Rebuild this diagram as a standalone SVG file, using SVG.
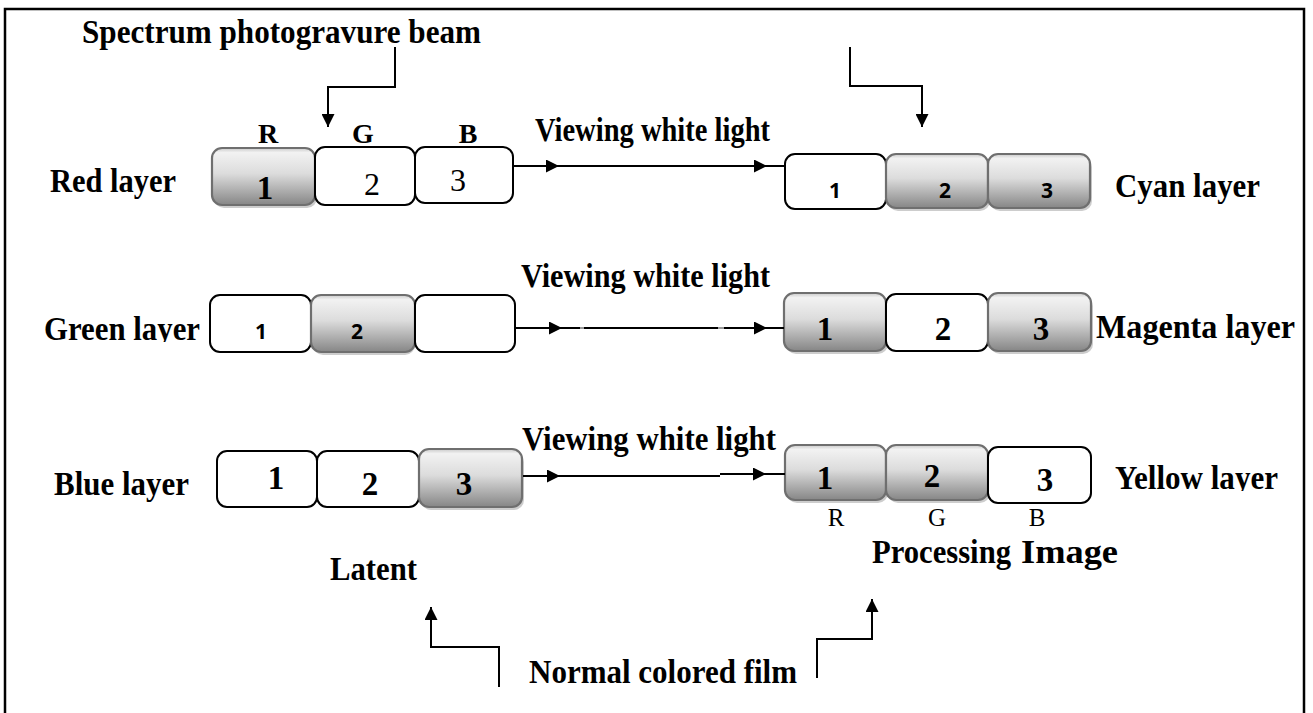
<svg xmlns="http://www.w3.org/2000/svg" width="1313" height="713" viewBox="0 0 1313 713">
  <defs>
    <linearGradient id="grayFill" x1="0" y1="0" x2="0" y2="1">
      <stop offset="0" stop-color="#c9c9c9"/>
      <stop offset="0.08" stop-color="#f2f2f2"/>
      <stop offset="0.45" stop-color="#dcdcdc"/>
      <stop offset="1" stop-color="#868686"/>
    </linearGradient>
    <marker id="arrowhead" viewBox="0 0 10 10" refX="10" refY="5" markerUnits="userSpaceOnUse" markerWidth="15" markerHeight="13" orient="auto">
      <path d="M0,0 L10,5 L0,10 z" fill="#000"/>
    </marker>
    <!-- descenders of these two labels are cut off at the baseline -->
    <clipPath id="clipGreen"><rect x="30" y="290" width="180" height="52"/></clipPath>
    <clipPath id="clipYellow"><rect x="1100" y="440" width="200" height="51"/></clipPath>
    <style>
      .lbl { font-family: "Liberation Serif", "Times New Roman", serif; font-weight: bold; font-size: 34px; fill: #000; }
      .num { font-family: "Liberation Serif", "Times New Roman", serif; font-size: 32px; fill: #000; text-anchor: middle; }
      .numb { font-family: "Liberation Serif", "Times New Roman", serif; font-weight: bold; font-size: 33px; fill: #000; text-anchor: middle; }
      .sans { font-family: "Open Sans", "Noto Sans", sans-serif; font-weight: 700; font-size: 21px; fill: #000; text-anchor: middle; }
      .rgb { font-family: "Liberation Serif", "Times New Roman", serif; font-size: 25px; fill: #000; text-anchor: middle; }
      .rgbb { font-family: "Liberation Serif", "Times New Roman", serif; font-weight: bold; font-size: 28px; fill: #000; text-anchor: middle; }
      .white { fill: #fff; stroke: #000; stroke-width: 2; }
      .gray { fill: url(#grayFill); stroke: #6f6f6f; stroke-width: 2.2; }
      .shadow { fill: #b8b8b8; opacity: 0.7; }
      .wire { fill: none; stroke: #000; stroke-width: 2; }
      .seam { fill: none; stroke: #9a9a9a; stroke-width: 2; }
      .arrow { fill: none; stroke: #000; stroke-width: 2; marker-end: url(#arrowhead); }
      .frame { fill: none; stroke: #000; stroke-width: 2.5; }
    </style>
  </defs>

  <rect width="1313" height="713" fill="#fff"/>

  <!-- outer frame, open at the bottom -->
  <path class="frame" d="M5,713 V9 H1304 V713"/>

  <!-- latent image: red layer -->
  <g id="red-layer">
    <text class="lbl" x="50" y="192" textLength="126" lengthAdjust="spacingAndGlyphs">Red layer</text>
    <text class="rgbb" x="268" y="143">R</text>
    <text class="rgbb" x="363" y="143">G</text>
    <text class="rgbb" x="468" y="143">B</text>
    <rect class="shadow" x="214" y="151" width="103" height="57" rx="10"/>
    <rect class="gray" x="212" y="148" width="103" height="57" rx="10"/>
    <rect class="white" x="315" y="147" width="100" height="58" rx="10"/>
    <rect class="white" x="415" y="147" width="98" height="56" rx="10"/>
    <text class="numb" x="265" y="199">1</text>
    <text class="num" x="372" y="195">2</text>
    <text class="num" x="458" y="191">3</text>
  </g>

  <!-- latent image: green layer -->
  <g id="green-layer">
    <text class="lbl" x="44" y="340" textLength="156" lengthAdjust="spacingAndGlyphs" clip-path="url(#clipGreen)">Green layer</text>
    <rect class="white" x="210" y="295" width="101" height="57" rx="10"/>
    <rect class="shadow" x="313" y="298" width="102" height="57" rx="10"/>
    <rect class="gray" x="311" y="295" width="104" height="57" rx="10"/>
    <rect class="white" x="415" y="295" width="100" height="57" rx="10"/>
    <text class="sans" x="261" y="339">1</text>
    <text class="sans" x="357" y="339">2</text>
  </g>

  <!-- latent image: blue layer -->
  <g id="blue-layer">
    <text class="lbl" x="54" y="495" textLength="135" lengthAdjust="spacingAndGlyphs">Blue layer</text>
    <rect class="white" x="217" y="451" width="100" height="56" rx="10"/>
    <rect class="white" x="317" y="451" width="102" height="56" rx="10"/>
    <rect class="shadow" x="421" y="452" width="103" height="58" rx="10"/>
    <rect class="gray" x="419" y="449" width="103" height="58" rx="10"/>
    <text class="numb" x="276" y="489">1</text>
    <text class="numb" x="370" y="495">2</text>
    <text class="numb" x="464" y="495">3</text>
  </g>

  <!-- processed image: cyan layer -->
  <g id="cyan-layer">
    <rect class="white" x="785" y="154" width="101" height="55" rx="10"/>
    <rect class="shadow" x="888" y="157" width="102" height="54" rx="10"/>
    <rect class="gray" x="886" y="154" width="102" height="54" rx="10"/>
    <rect class="shadow" x="990" y="157" width="102" height="54" rx="10"/>
    <rect class="gray" x="988" y="154" width="102" height="54" rx="10"/>
    <text class="sans" x="835" y="198">1</text>
    <text class="sans" x="945" y="198">2</text>
    <text class="sans" x="1047" y="198">3</text>
    <text class="lbl" x="1115" y="197" textLength="145" lengthAdjust="spacingAndGlyphs">Cyan layer</text>
  </g>

  <!-- processed image: magenta layer -->
  <g id="magenta-layer">
    <rect class="shadow" x="786" y="296" width="102" height="58" rx="10"/>
    <rect class="gray" x="784" y="293" width="102" height="58" rx="10"/>
    <rect class="white" x="886" y="294" width="102" height="57" rx="10"/>
    <rect class="shadow" x="990" y="296" width="103" height="58" rx="10"/>
    <rect class="gray" x="988" y="293" width="103" height="58" rx="10"/>
    <text class="numb" x="825" y="340">1</text>
    <text class="numb" x="943" y="340">2</text>
    <text class="numb" x="1041" y="340">3</text>
    <text class="lbl" x="1096" y="338" textLength="199" lengthAdjust="spacingAndGlyphs">Magenta layer</text>
  </g>

  <!-- processed image: yellow layer -->
  <g id="yellow-layer">
    <rect class="shadow" x="787" y="448" width="101" height="55" rx="10"/>
    <rect class="gray" x="785" y="445" width="101" height="55" rx="10"/>
    <rect class="shadow" x="888" y="448" width="102" height="55" rx="10"/>
    <rect class="gray" x="886" y="445" width="102" height="55" rx="10"/>
    <rect class="white" x="988" y="447" width="103" height="56" rx="10"/>
    <text class="numb" x="825" y="489">1</text>
    <text class="numb" x="932" y="487">2</text>
    <text class="numb" x="1045" y="491">3</text>
    <text class="lbl" x="1115" y="489" textLength="163" lengthAdjust="spacingAndGlyphs" clip-path="url(#clipYellow)">Yellow layer</text>
    <text class="rgb" x="836" y="526">R</text>
    <text class="rgb" x="937" y="526">G</text>
    <text class="rgb" x="1037" y="526">B</text>
  </g>

  <!-- captions -->
  <g id="spectrum-label">
    <text class="lbl" x="82" y="43" font-size="32" textLength="399" lengthAdjust="spacingAndGlyphs">Spectrum photogravure beam</text>
  </g>
  <g id="latent-label">
    <text class="lbl" x="330" y="580" textLength="87" lengthAdjust="spacingAndGlyphs">Latent</text>
  </g>
  <g id="processing-label">
    <text class="lbl" x="872" y="563" font-size="33" textLength="139" lengthAdjust="spacingAndGlyphs">Processing</text>
    <text class="lbl" x="1021" y="563" font-size="40" textLength="97" lengthAdjust="spacingAndGlyphs">Image</text>
  </g>
  <g id="film-label">
    <text class="lbl" x="529" y="683" textLength="268" lengthAdjust="spacingAndGlyphs">Normal colored film</text>
  </g>
  <g id="viewing-labels">
    <text class="lbl" x="535" y="141" font-size="32" textLength="235" lengthAdjust="spacingAndGlyphs">Viewing white light</text>
    <text class="lbl" x="521" y="287" font-size="33" textLength="249" lengthAdjust="spacingAndGlyphs">Viewing white light</text>
    <text class="lbl" x="522" y="450" font-size="33" textLength="254" lengthAdjust="spacingAndGlyphs">Viewing white light</text>
  </g>

  <g id="connectors">
    <!-- exposure beams -->
    <path class="arrow" d="M395,47 V87 H328 V127"/>
    <path class="arrow" d="M850,47 V86 H922 V127"/>
    <!-- row 1 -->
    <path class="arrow" d="M514,166 H559"/>
    <path class="arrow" d="M559,166 H767"/>
    <path class="wire" d="M767,166 H785"/>
    <!-- row 2 -->
    <path class="arrow" d="M516,328 H562"/>
    <path class="seam" d="M562,328 H584 M718,328 H724"/>
    <path class="wire" d="M562,328 H580 M584,328 H718 M724,328 H752"/>
    <path class="arrow" d="M750,328 H767"/>
    <path class="wire" d="M767,328 H784"/>
    <!-- row 3 -->
    <path class="arrow" d="M523,476 H560"/>
    <path class="wire" d="M560,476 H720"/>
    <path class="arrow" d="M720,474 H766"/>
    <path class="wire" d="M766,474 H785"/>
    <!-- film feeds -->
    <path class="arrow" d="M499,687 V647 H431 V607"/>
    <path class="arrow" d="M817,678 V639 H872 V599"/>
  </g>
</svg>
